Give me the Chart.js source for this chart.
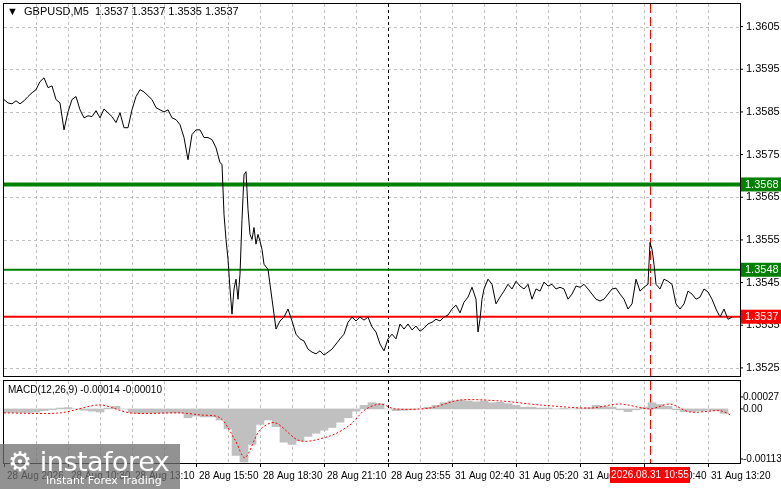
<!DOCTYPE html>
<html><head><meta charset="utf-8">
<script src="https://cdn.jsdelivr.net/npm/chart.js@4"></script>
<style>
html,body{margin:0;padding:0;background:#fff;}
#wrap{position:relative;width:781px;height:489px;overflow:hidden;}
canvas{position:absolute;left:0;top:0;}
#logo{position:absolute;left:0;top:444px;width:180px;height:45px;background:rgba(110,110,110,0.75);color:#fff;font-family:"DejaVu Sans",sans-serif;}
</style></head>
<body><div id="wrap"><canvas id="main" width="781" height="489"></canvas><canvas id="macd" width="781" height="489"></canvas>
<div id="logo"><div style="position:absolute;left:8px;top:2px;font-size:27px;letter-spacing:-0.5px;">⚙ instaforex</div><div style="position:absolute;left:46px;top:30px;font-size:11px;">Instant Forex Trading</div></div></div>
<script>
// ---- data ----
const priceBars = [0,2,4,6,8,10,12,14,16,18,20,22,24,26,28,30,32,34,36,38,40,42,44,46,48,50,52,54,56,58,60,62,64,66,68,70,72,74,76,78,80,82,84,86,88,90,92,94,96,98,100,102,104,106,108,
109,110,111,112,113,114,115,116,117,118,119,120,121,122,123,124,125,126,127,128,129,130,
132,134,136,138,140,142,144,146,148,150,152,154,156,158,160,162,164,166,168,170,172,174,176,178,180,182,184,186,188,190,192,194,196,198,200,202,204,206,208,210,212,214,216,218,220,222,224,226,228,230,232,234,
236,237,238,239,
240,242,244,246,248,250,252,254,256,258,260,262,264,266,268,270,272,274,276,278,280,282,284,286,288,290,292,294,296,298,300,302,304,306,308,310,312,314,316,318,320,322,
323,324,325,326,
328,330,332,334,336,338,340,342,344,346,348,350,352,354,356,358,360,362,364];
const prices = [1.35879,1.35871,1.35869,1.35876,1.35869,1.35876,1.35886,1.35895,1.35902,1.35921,1.35930,1.35907,1.35911,1.35879,1.35871,1.35808,1.35850,1.35879,1.35886,1.35855,1.35836,1.35841,1.35839,1.35853,1.35836,1.35857,1.35848,1.35839,1.35825,1.35848,1.35813,1.35813,1.35855,1.35886,1.35902,1.35897,1.35888,1.35879,1.35860,1.35855,1.35850,1.35855,1.35836,1.35832,1.35820,1.35790,1.35738,1.35797,1.35808,1.35808,1.35790,1.35790,1.35785,1.35766,1.35731,
1.35727,1.35610,1.35551,1.35505,1.35435,1.35376,1.35435,1.35458,1.35411,1.35470,1.35598,1.35703,1.35710,1.35621,1.35563,1.35551,1.35579,1.35540,1.35563,1.35547,1.35528,1.35493,
1.35481,1.35411,1.35341,1.35360,1.35369,1.35388,1.35360,1.35329,1.35318,1.35313,1.35294,1.35287,1.35283,1.35290,1.35280,1.35287,1.35294,1.35306,1.35318,1.35329,1.35357,1.35369,1.35360,1.35369,1.35362,1.35369,1.35346,1.35334,1.35306,1.35290,1.35318,1.35329,1.35318,1.35353,1.35341,1.35353,1.35339,1.35348,1.35336,1.35343,1.35353,1.35357,1.35364,1.35360,1.35369,1.35374,1.35388,1.35397,1.35379,1.35404,1.35416,1.35439,
1.35411,1.35334,1.35364,1.35411,
1.35435,1.35458,1.35446,1.35400,1.35416,1.35430,1.35446,1.35435,1.35453,1.35442,1.35435,1.35446,1.35411,1.35435,1.35430,1.35451,1.35442,1.35446,1.35435,1.35439,1.35435,1.35411,1.35423,1.35442,1.35439,1.35446,1.35435,1.35423,1.35411,1.35407,1.35411,1.35423,1.35435,1.35437,1.35423,1.35411,1.35388,1.35400,1.35458,1.35430,1.35439,1.35446,
1.35544,1.35528,1.35493,1.35446,
1.35435,1.35458,1.35453,1.35446,1.35400,1.35388,1.35400,1.35430,1.35423,1.35411,1.35416,1.35435,1.35428,1.35411,1.35388,1.35369,1.35388,1.35364,1.35369];
const macdBars = [0,4,8,12,16,20,24,28,32,36,40,44,48,52,56,60,64,68,72,76,80,84,88,92,96,100,104,108,112,116,120,124,128,132,136,140,144,148,152,156,160,164,168,172,176,180,184,188,192,196,200,204,208,212,216,220,224,228,232,236,240,244,248,252,256,260,264,268,272,276,280,284,288,292,296,300,304,308,312,316,320,324,328,332,336,340,344,348,352,356,360];
const macdHist = [-8,-8,-8,-8,-7,-4,-2,2,3,0,-3,-5,-7,2,6,0,-8,-10,-9,-9,-9,-9,-9,-20,-16,-18,-18,-25,-45,-105,-120,-80,-35,-25,-40,-75,-80,-72,-62,-55,-48,-42,-30,-20,-5,8,14,12,0,-4,-3,-2,0,4,8,14,18,20,18,16,18,14,15,12,8,4,4,2,2,0,1,0,1,3,8,6,4,-2,-6,-2,4,14,10,6,-2,-6,-6,-4,-3,-4,-10];
const signalBars = [0,28,48,63,88,98,108,115.5,120.5,128,135.5,148,163,173,180.5,188,195.5,213,228,248,268,293,308,323,333,343,358,363];
const signalVals = [-9,-9,9,-9,-9,-13.5,-20,-70,-110,-47,-31,-72,-61,-36,-2,11,0,2,20,18,9,2,11,0,11,-7,-4,-13];
const priceTicks = [1.3605,1.3595,1.3585,1.3575,1.3565,1.3555,1.3545,1.3535,1.3525];
const levels = [{v:1.3568,c:'#008000',w:4,label:'1.3568'},{v:1.3548,c:'#008000',w:2,label:'1.3548'},{v:1.3537,c:'#ff0000',w:2,label:'1.3537'}];
const timeBars = [0,32,64,96,128,160,192,224,256,288,320,352];
const timeLabels = ['28 Aug 2026','28 Aug 10:30','28 Aug 13:10','28 Aug 15:50','28 Aug 18:30','28 Aug 21:10','28 Aug 23:55','31 Aug 02:40','31 Aug 05:20','31 Aug 08:00','31 Aug 10:40','31 Aug 13:20'];
const vLines = [{b:192,c:'#000',d:[3,3]},{b:323,c:'#ff0000',d:[9,4]}];
const cursorLabel = '2026.08.31 10:55';
const macdTicks = [{v:27,t:'0.00027'},{v:0,t:'0.00'},{v:-113,t:'-0.00113'}];

const F = '11px "Liberation Sans", sans-serif';
const FS = '10px "Liberation Sans", sans-serif';
const xScale = {type:'linear',min:0,max:368,display:false,offset:false};

function gridV(ctx,a,xs){ctx.save();ctx.strokeStyle='#c0c0c0';ctx.lineWidth=1;ctx.setLineDash([3,3]);
  for(let b=16;b<368;b+=16){const x=Math.round(xs.getPixelForValue(b))+0.5;ctx.beginPath();ctx.moveTo(x,a.top);ctx.lineTo(x,a.bottom);ctx.stroke();}ctx.restore();}
function vlines(ctx,a,xs){ctx.save();ctx.lineWidth=1;for(const l of vLines){ctx.strokeStyle=l.c;ctx.setLineDash(l.d);const x=Math.round(xs.getPixelForValue(l.b))+0.5;ctx.beginPath();ctx.moveTo(x,a.top);ctx.lineTo(x,a.bottom);ctx.stroke();}ctx.restore();}

const mainPlugin = {id:'mainp',
 beforeDatasetsDraw(ch){const ctx=ch.ctx,a=ch.chartArea,xs=ch.scales.x,ys=ch.scales.y;
  gridV(ctx,a,xs);
  ctx.save();ctx.strokeStyle='#c0c0c0';ctx.setLineDash([3,3]);
  for(const t of priceTicks){const y=Math.round(ys.getPixelForValue(t))+0.5;ctx.beginPath();ctx.moveTo(a.left,y);ctx.lineTo(a.right,y);ctx.stroke();}
  ctx.restore();
  vlines(ctx,a,xs);
  ctx.save();for(const l of levels){ctx.strokeStyle=l.c;ctx.lineWidth=l.w;const y=ys.getPixelForValue(l.v);ctx.beginPath();ctx.moveTo(a.left,y);ctx.lineTo(a.right,y);ctx.stroke();}ctx.restore();
 },
 afterDraw(ch){const ctx=ch.ctx,a=ch.chartArea,ys=ch.scales.y;
  ctx.save();ctx.strokeStyle='#000';ctx.lineWidth=1;ctx.strokeRect(a.left-0.5,a.top-0.5,a.right-a.left+1,a.bottom-a.top+1);
  ctx.font=F;ctx.fillStyle='#000';ctx.textBaseline='middle';
  for(const t of priceTicks){const y=ys.getPixelForValue(t);ctx.beginPath();ctx.moveTo(a.right,y);ctx.lineTo(a.right+3,y);ctx.stroke();ctx.fillText(t.toFixed(4),a.right+6,y);}
  for(const l of levels){const y=ys.getPixelForValue(l.v);ctx.fillStyle=l.c;ctx.fillRect(a.right+1,y-7,40,14);ctx.fillStyle='#fff';ctx.fillText(l.label,a.right+5,y+0.5);}
  ctx.fillStyle='#000';ctx.fillText('▼  GBPUSD,M5  1.3537 1.3537 1.3535 1.3537',a.left+3,a.top+8);
  ctx.restore();}
};
new Chart(document.getElementById('main'),{type:'line',
 data:{datasets:[{data:priceBars.map((b,i)=>({x:b,y:prices[i]})),borderColor:'#000',borderWidth:1,pointRadius:0,tension:0,fill:false}]},
 options:{responsive:false,animation:false,events:[],layout:{padding:{left:4,top:4,right:41,bottom:113}},
  plugins:{legend:{display:false},tooltip:{enabled:false}},
  scales:{x:xScale,y:{display:false,min:1.35231,max:1.36103}}},plugins:[mainPlugin]});

const macdPlugin = {id:'macdp',
 beforeDatasetsDraw(ch){const ctx=ch.ctx,a=ch.chartArea,xs=ch.scales.x;gridV(ctx,a,xs);vlines(ctx,a,xs);},
 afterDraw(ch){const ctx=ch.ctx,a=ch.chartArea,ys=ch.scales.y,xs=ch.scales.x;
  ctx.save();ctx.strokeStyle='#000';ctx.lineWidth=1;ctx.strokeRect(a.left-0.5,a.top-0.5,a.right-a.left+1,a.bottom-a.top+1);
  ctx.font=FS;ctx.fillStyle='#000';ctx.textBaseline='middle';
  for(const t of macdTicks){const y=ys.getPixelForValue(t.v);ctx.beginPath();ctx.moveTo(a.right,y);ctx.lineTo(a.right+3,y);ctx.stroke();ctx.fillText(t.t,a.right+3,y);}
  ctx.fillText('MACD(12,26,9) -0.00014 -0.00010',a.left+4,a.top+9);
  for(let i=0;i<timeBars.length;i++){const x=xs.getPixelForValue(timeBars[i]);ctx.beginPath();ctx.moveTo(x+0.5,a.bottom);ctx.lineTo(x+0.5,a.bottom+4);ctx.stroke();ctx.fillStyle='#000';ctx.fillText(timeLabels[i],x+3,a.bottom+13);}
  const cx=xs.getPixelForValue(vLines[1].b);ctx.fillStyle='#ff0000';ctx.fillRect(cx-40,a.bottom+4,80,16);ctx.fillStyle='#fff';ctx.textAlign='center';ctx.fillText(cursorLabel,cx,a.bottom+12.5);
  ctx.restore();}
};
new Chart(document.getElementById('macd'),{type:'bar',
 data:{datasets:[
  {type:'line',data:signalBars.map((b,i)=>({x:b,y:signalVals[i]})),borderColor:'#ff0000',borderWidth:1,borderDash:[2,2],pointRadius:0,tension:0.3,fill:false},
  {type:'bar',data:macdBars.map((b,i)=>({x:b,y:macdHist[i]})),backgroundColor:'#c0c0c0',borderWidth:0,barPercentage:1,categoryPercentage:1}]},
 options:{responsive:false,animation:false,events:[],layout:{padding:{left:4,top:381,right:41,bottom:26}},
  plugins:{legend:{display:false},tooltip:{enabled:false}},
  scales:{x:xScale,y:{display:false,min:-122,max:63}}},plugins:[macdPlugin]});
</script></body></html>
